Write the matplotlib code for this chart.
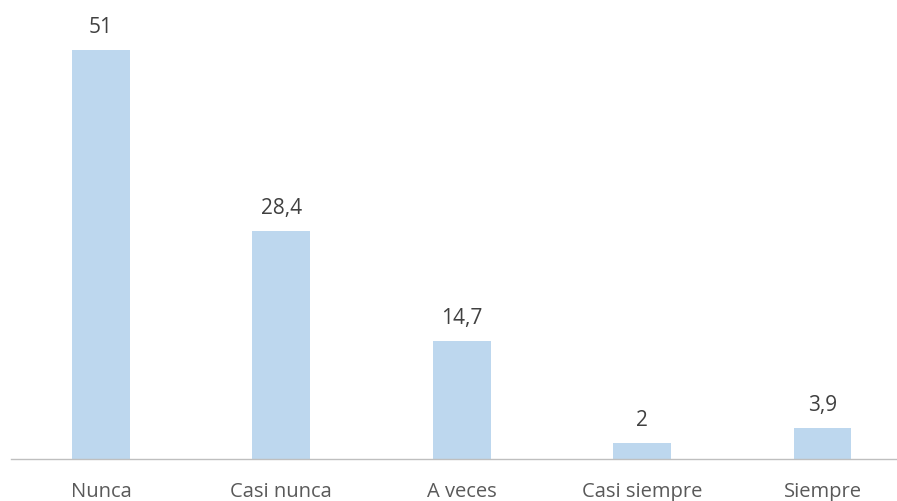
import matplotlib.pyplot as plt

categories = ['Nunca', 'Casi nunca', 'A veces', 'Casi siempre', 'Siempre']
values = [51, 28.4, 14.7, 2, 3.9]
value_labels = ['51', '28,4', '14,7', '2', '3,9']

plt.rcParams['font.family'] = ['Open Sans', 'DejaVu Sans']

fig = plt.figure(figsize=(8.97, 5.02), dpi=100)
# axes extends past the right edge, like the cropped original
ax = fig.add_axes([10.75 / 897, 42 / 502, 902 / 897, 460 / 502])

x = range(len(categories))
bars = ax.bar(x, values, width=0.32, color='#BDD7EE', zorder=2)

for xi, v, lab in zip(x, values, value_labels):
    ax.annotate(lab, (xi, v), xytext=(0, 13), textcoords='offset points',
                ha='center', va='baseline', fontsize=15, color='#404040')

ax.set_xlim(-0.5, 4.5)
ax.set_ylim(0, 57.36)
ax.set_xticks(list(x))
ax.set_xticklabels(categories, fontsize=14.5, color='#595959')
ax.tick_params(axis='x', length=0, pad=16)
ax.set_yticks([])

for side in ['top', 'right', 'left']:
    ax.spines[side].set_visible(False)
ax.spines['bottom'].set_color('#BFBFBF')
ax.spines['bottom'].set_linewidth(1)

fig.savefig('out.png', dpi=100)
